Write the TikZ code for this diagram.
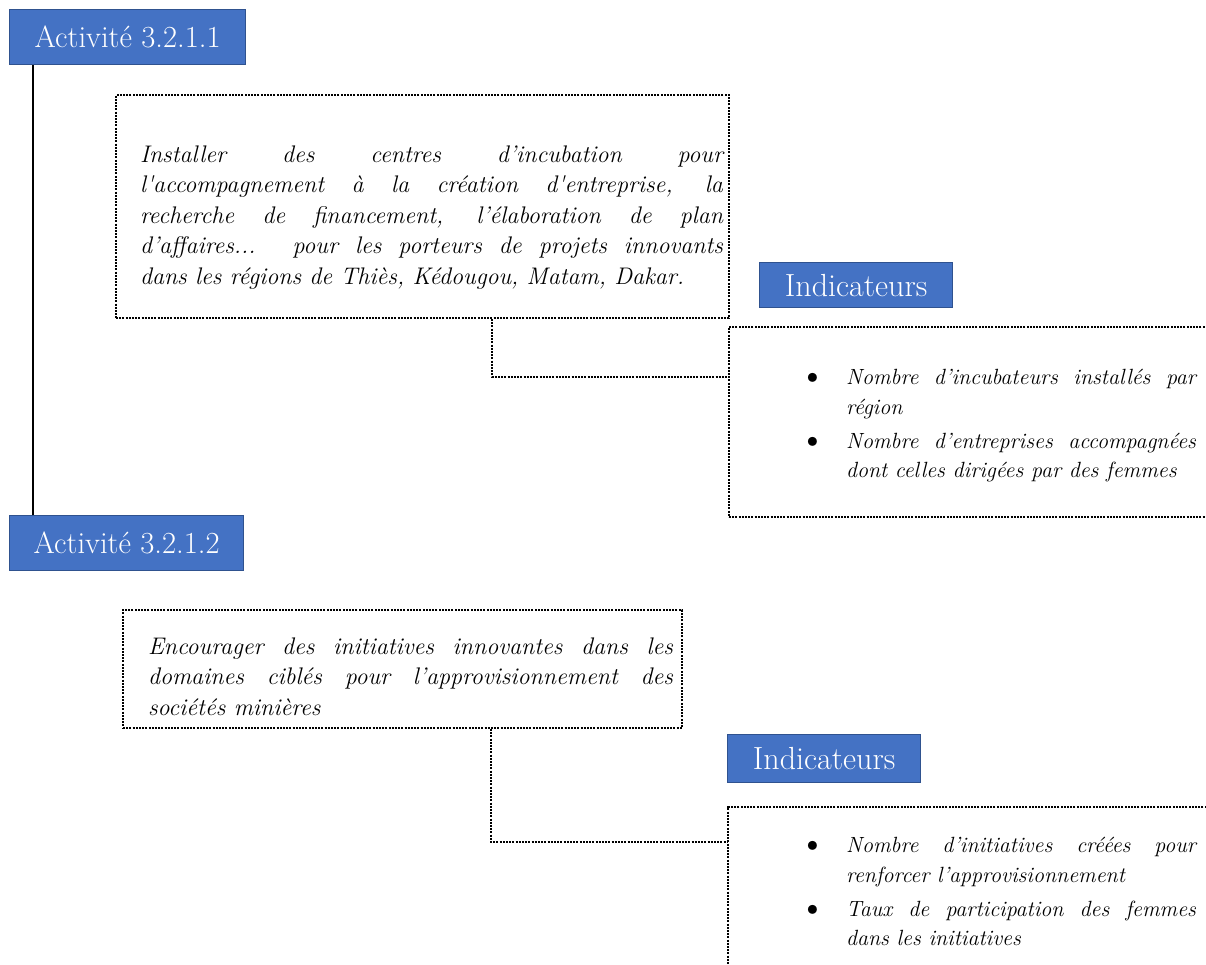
\documentclass[tikz,border=0pt]{standalone}
\usepackage{fontspec}
\definecolor{actfill}{HTML}{4472C4}
\definecolor{actdraw}{HTML}{2F528F}
\newlength\pxu \setlength\pxu{0.75pt}
\newcommand\bul{\strut\llap{\makebox[48\pxu][l]{\raisebox{-3.2pt}{\upshape\fontsize{30}{30}\selectfont\textbullet}}}}
\tikzset{
  act/.style={draw=actdraw, fill=actfill, line width=1pt, text=white, inner sep=0pt, anchor=north west, font=\fontsize{23}{27}\selectfont},
  dotbox/.style={draw=black, line width=1.5pt, dash pattern=on 1.5pt off 0.9pt, inner sep=0pt, anchor=north west},
  dotline/.style={draw=black, line width=1.5pt, dash pattern=on 1.5pt off 0.9pt},
}
\begin{document}
\begin{tikzpicture}[x=0.75pt,y=-0.75pt]
\useasboundingbox (0,0) rectangle (1206,964);
% activity labels
\node[act, minimum width=236\pxu, minimum height=55\pxu] (a1) at (9,9) {Activité 3.2.1.1};
\node[act, minimum width=234\pxu, minimum height=55\pxu] (a2) at (9,515) {Activité 3.2.1.2};
\coordinate (v) at (33,0);
\draw[line width=1.4pt] (a1.south -| v) -- (a2.north -| v);
% description boxes
\node[dotbox] (t1) at (115,94) {\parbox[c][223\pxu][t]{613\pxu}{\vspace*{46\pxu}\fontsize{18}{22.9}\selectfont\itshape\leftskip=24\pxu\rightskip=6\pxu
\strut Installer des centres d’incubation pour\linebreak
l\textquotesingle accompagnement à la création d\textquotesingle entreprise, la\linebreak
recherche de financement, l’élaboration de plan\linebreak
d’affaires... pour les porteurs de projets innovants\linebreak
dans les régions de Thiès, Kédougou, Matam, Dakar.\par}};
\node[dotbox] (t2) at (122,609) {\parbox[c][118\pxu][t]{559\pxu}{\vspace*{23\pxu}\fontsize{18}{22.9}\selectfont\itshape\leftskip=25\pxu\rightskip=9\pxu
\strut Encourager des initiatives innovantes dans les\linebreak
domaines ciblés pour l’approvisionnement des\linebreak
sociétés minières\par}};
% indicator labels
\node[act, minimum width=193\pxu, minimum height=45\pxu, font=\fontsize{24}{28}\selectfont] (l1) at (759,262) {Indicateurs};
\node[act, minimum width=193\pxu, minimum height=48\pxu, font=\fontsize{24}{28}\selectfont] (l2) at (727,734) {Indicateurs};
% indicator boxes
\node[dotbox] (i1) at (728,326) {\parbox[c][190\pxu][t]{490\pxu}{\vspace*{37\pxu}\fontsize{16.5}{22.1}\selectfont\itshape\leftskip=117\pxu\rightskip=23\pxu
\bul Nombre d’incubateurs installés par\linebreak région\par\vspace{4.5\pxu}
\bul Nombre d’entreprises accompagnées\linebreak dont celles dirigées par des femmes\par}};
\node[dotbox] (i2) at (727,806) {\parbox[c][175\pxu][t]{491\pxu}{\vspace*{25\pxu}\fontsize{16.5}{22.1}\selectfont\itshape\leftskip=118\pxu\rightskip=23\pxu
\bul Nombre d’initiatives créées pour\linebreak renforcer l’approvisionnement\par\vspace{4.5\pxu}
\bul Taux de participation des femmes\linebreak dans les initiatives\par}};
% connectors
\coordinate (k1) at (492,377);
\draw[dotline] (t1.south -| k1) |- (i1.west |- k1);
\coordinate (k2) at (491,842);
\draw[dotline] (t2.south -| k2) |- (i2.west |- k2);
\end{tikzpicture}
\end{document}
